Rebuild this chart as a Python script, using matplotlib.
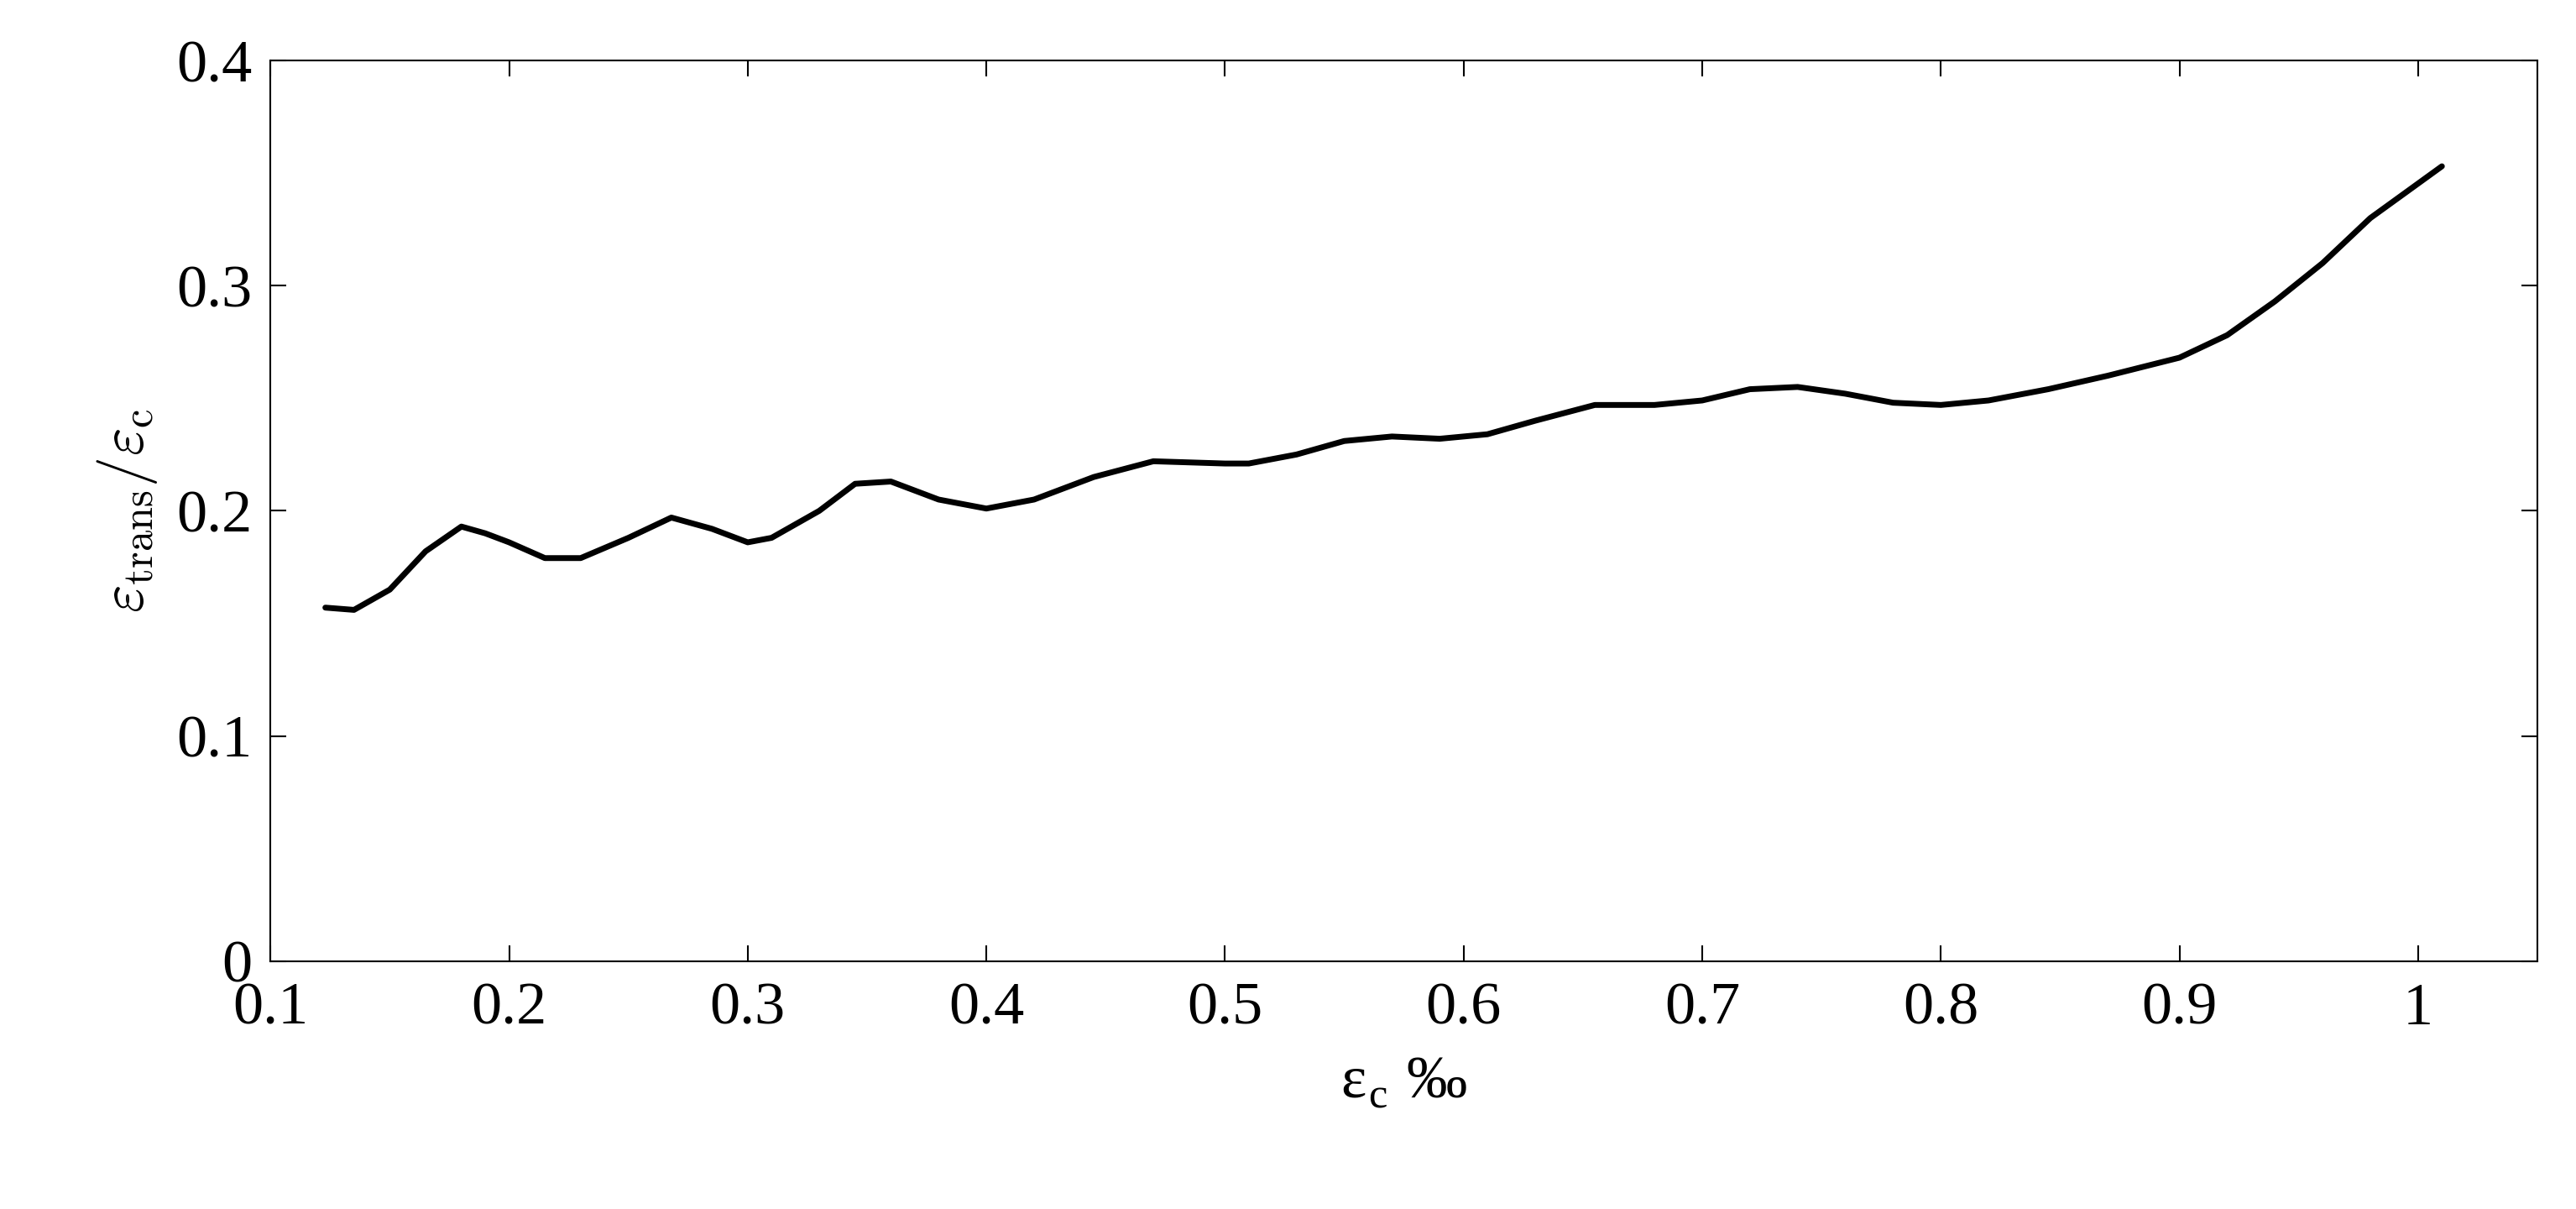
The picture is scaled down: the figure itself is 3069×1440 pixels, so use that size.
import matplotlib
matplotlib.use("Agg")
import matplotlib.pyplot as plt

# strain values
eps_c = [0.123, 0.135, 0.15, 0.165, 0.18, 0.19, 0.20, 0.215, 0.23, 0.25, 0.268, 0.285,
         0.30, 0.31, 0.33, 0.345, 0.36, 0.38, 0.40, 0.42, 0.445, 0.47, 0.50, 0.51,
         0.53, 0.55, 0.57, 0.59, 0.61, 0.63, 0.655, 0.68, 0.70, 0.72, 0.74, 0.76,
         0.78, 0.80, 0.82, 0.845, 0.87, 0.90, 0.92, 0.94, 0.96, 0.98, 1.01]
ratio = [0.157, 0.156, 0.165, 0.182, 0.193, 0.190, 0.186, 0.179, 0.179, 0.188, 0.197, 0.192,
         0.186, 0.188, 0.200, 0.212, 0.213, 0.205, 0.201, 0.205, 0.215, 0.222, 0.221, 0.221,
         0.225, 0.231, 0.233, 0.232, 0.234, 0.240, 0.247, 0.247, 0.249, 0.254, 0.255, 0.252,
         0.248, 0.247, 0.249, 0.254, 0.260, 0.268, 0.278, 0.293, 0.310, 0.330, 0.353]
xticks = [0.1, 0.2, 0.3, 0.4, 0.5, 0.6, 0.7, 0.8, 0.9, 1.0]
xticklabels = ["0.1", "0.2", "0.3", "0.4", "0.5", "0.6", "0.7", "0.8", "0.9", "1"]
yticks = [0, 0.1, 0.2, 0.3, 0.4]
yticklabels = ["0", "0.1", "0.2", "0.3", "0.4"]

plt.rcParams["font.family"] = ["Liberation Serif", "DejaVu Serif"]
plt.rcParams["mathtext.fontset"] = "cm"

fig = plt.figure(figsize=(30.69, 14.4), dpi=100)
ax = fig.add_axes([0.105, 0.205, 0.88, 0.745])
ax.plot(eps_c, ratio, color="black", linewidth=5, solid_joinstyle="round", solid_capstyle="round")

ax.set_xlim(0.1, 1.05)
ax.set_ylim(0, 0.4)
ax.set_xticks(xticks, xticklabels)
ax.set_yticks(yticks, yticklabels)
ax.tick_params(direction="in", top=True, right=True, length=14, width=1.5, labelsize=52)
ax.tick_params(axis="x", pad=18)
ax.tick_params(axis="y", pad=16)
for s in ax.spines.values():
    s.set_linewidth(1.5)

ax.set_xlabel("ε$_\\mathregular{c}$ ‰", fontsize=52, labelpad=16)
ax.set_ylabel(r"$\varepsilon_{\rm trans}/\varepsilon_{\rm c}$", fontsize=52, labelpad=14)

fig.savefig("out.png", dpi=100)
